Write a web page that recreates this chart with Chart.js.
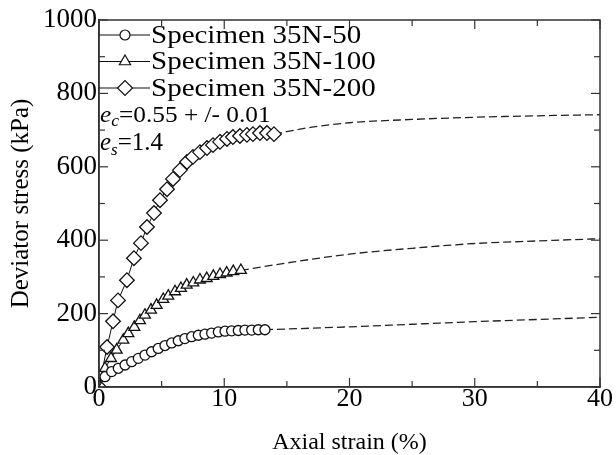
<!DOCTYPE html>
<html><head><meta charset="utf-8">
<script src="https://cdn.jsdelivr.net/npm/chart.js@4/dist/chart.umd.min.js"></script>
<style>html,body{margin:0;padding:0;background:#fff}</style>
</head><body>
<canvas id="c" width="616" height="455" style="display:block;width:616px;height:455px"></canvas>
<script>
const FONT = '"Liberation Serif", "Times New Roman", serif';

const seriesLabels = ['Specimen 35N-50', 'Specimen 35N-100', 'Specimen 35N-200'];

const strain50 = [0, 0.48, 1.01, 1.54, 2.08, 2.61, 3.14, 3.67, 4.2, 4.73, 5.27, 5.8, 6.33, 6.86, 7.4, 7.93, 8.46, 8.99, 9.53, 10.06, 10.59, 11.12, 11.65, 12.19, 12.72, 13.25];
const stress50 = [0, 28, 42, 51, 60, 69, 78, 87, 96, 105, 113, 120, 126, 132, 137, 141, 144, 147, 150, 152, 153, 154, 155, 155, 156, 156];

const strain100 = [0, 0.48, 0.96, 1.41, 1.94, 2.34, 2.82, 3.27, 3.67, 4.15, 4.6, 5.13, 5.53, 6.07, 6.54, 7.0, 7.53, 8.06, 8.6, 9.13, 9.66, 10.19, 10.72, 11.33];
const stress100 = [0, 51, 78, 101, 128, 146, 163, 181, 196, 210, 223, 239, 248, 260, 269, 278, 284, 292, 296, 302, 307, 311, 315, 318];

const strain200 = [0, 0.64, 1.12, 1.52, 2.23, 2.79, 3.35, 3.83, 4.39, 4.87, 5.43, 5.91, 6.46, 7.02, 7.5, 8.06, 8.62, 9.1, 9.66, 10.22, 10.69, 11.25, 11.81, 12.29, 12.85, 13.41, 13.97];
const stress200 = [0, 109, 179, 236, 291, 351, 392, 436, 474, 509, 539, 567, 591, 613, 627, 640, 651, 659, 668, 676, 681, 684, 687, 689, 692, 692, 689];

const fitStrain50 = [13.25, 20, 25, 30, 35, 40];
const fitStress50 = [156, 164, 171, 178, 184, 190];
const fitStrain100 = [11.33, 15, 20, 25, 30, 35, 40];
const fitStress100 = [318, 338, 362, 378, 391, 398, 404];
const fitStrain200 = [13.97, 17, 20, 25, 30, 35, 40];
const fitStress200 = [689, 708, 720, 729, 735, 739, 742];

const xTicks = [0, 10, 20, 30, 40];
const yTicks = [0, 200, 400, 600, 800, 1000];

const pts = (xs, ys) => xs.map((x, i) => ({x: x, y: ys[i]}));
const INK = '#111';

function measured(label, xs, ys, style, r, firstHidden) {
  return {
    label: label, data: pts(xs, ys), showLine: true,
    borderColor: INK, borderWidth: 1, tension: 0,
    pointStyle: style,
    pointRadius: xs.map((_, i) => (firstHidden && i === 0) ? 0 : r),
    pointHoverRadius: r,
    pointBackgroundColor: '#fff', pointBorderColor: INK, pointBorderWidth: 1.3
  };
}
function fitted(xs, ys) {
  return {
    label: '', data: pts(xs, ys), showLine: true,
    borderColor: '#222', borderWidth: 1.3, borderDash: [8, 4],
    cubicInterpolationMode: 'monotone', pointRadius: 0, pointHoverRadius: 0
  };
}

function drawMarker(ctx, style, x, y, r) {
  ctx.beginPath();
  if (style === 'circle') {
    ctx.arc(x, y, r, 0, Math.PI * 2);
  } else if (style === 'triangle') {
    for (let k = 0; k < 3; k++) {
      const a = -Math.PI / 2 + k * 2 * Math.PI / 3;
      const px = x + r * Math.cos(a), py = y + r * Math.sin(a);
      if (k === 0) ctx.moveTo(px, py); else ctx.lineTo(px, py);
    }
    ctx.closePath();
  } else {
    ctx.moveTo(x - r, y); ctx.lineTo(x, y - r); ctx.lineTo(x + r, y); ctx.lineTo(x, y + r);
    ctx.closePath();
  }
  ctx.fillStyle = '#fff'; ctx.fill();
  ctx.stroke();
}

function stretchedText(ctx, text, x, y, sx) {
  ctx.save();
  ctx.translate(x, y);
  ctx.scale(sx, 1);
  ctx.fillText(text, 0, 0);
  const w = ctx.measureText(text).width * sx;
  ctx.restore();
  return w;
}

const decor = {
  id: 'decor',
  afterDraw(chart) {
    const {ctx, chartArea: a, scales: {x, y}} = chart;
    ctx.save();
    ctx.strokeStyle = '#333'; ctx.lineWidth = 1.5;
    ctx.strokeRect(a.left, a.top, a.right - a.left, a.bottom - a.top);
    ctx.lineWidth = 1.2;
    const seg = (x1, y1, x2, y2) => { ctx.beginPath(); ctx.moveTo(x1, y1); ctx.lineTo(x2, y2); ctx.stroke(); };
    for (let v = 0; v <= 40; v += 5) {
      const px = x.getPixelForValue(v);
      const L = (v % 10 === 0) ? 9 : 6;
      seg(px, a.bottom, px, a.bottom - L);
      seg(px, a.top, px, a.top + L);
    }
    for (let v = 0; v <= 1000; v += 100) {
      const py = y.getPixelForValue(v);
      const L = (v % 200 === 0) ? 9 : 6;
      seg(a.left, py, a.left + L, py);
      seg(a.right, py, a.right - L, py);
    }
    // legend
    const styles = ['circle', 'triangle', 'rectRot'];
    const radii = [5, 6.5, 7.5];
    const rows = [35, 61.5, 88];
    ctx.strokeStyle = INK;
    ctx.font = '25px ' + FONT; ctx.fillStyle = '#000';
    ctx.textBaseline = 'middle'; ctx.textAlign = 'left';
    for (let i = 0; i < 3; i++) {
      const yy = rows[i];
      ctx.lineWidth = 1.2;
      seg(a.left, yy, a.left + 51, yy);
      drawMarker(ctx, styles[i], a.left + 26, yy, radii[i]);
      ctx.fillStyle = '#000';
      stretchedText(ctx, seriesLabels[i], a.left + 52, yy + 1, 1.16);
    }
    // annotation
    ctx.textBaseline = 'alphabetic';
    let cx = a.left + 1;
    ctx.font = 'italic 23px ' + FONT; cx += stretchedText(ctx, 'e', cx, 122, 1.1);
    ctx.font = 'italic 16px ' + FONT; cx += stretchedText(ctx, 'c', cx, 126, 1.1);
    ctx.font = '23px ' + FONT; stretchedText(ctx, '=0.55 + /- 0.01', cx, 122, 1.1);
    cx = a.left + 1;
    ctx.font = 'italic 25px ' + FONT; cx += stretchedText(ctx, 'e', cx, 150, 1);
    ctx.font = 'italic 17px ' + FONT; cx += stretchedText(ctx, 's', cx, 155, 1);
    ctx.font = '25px ' + FONT; stretchedText(ctx, '=1.4', cx, 150, 1);
    ctx.restore();
  }
};

new Chart(document.getElementById('c'), {
  type: 'scatter',
  data: {
    datasets: [
      measured(seriesLabels[0], strain50, stress50, 'circle', 5, true),
      measured(seriesLabels[1], strain100, stress100, 'triangle', 6.3, true),
      measured(seriesLabels[2], strain200, stress200, 'rectRot', 7.3, false),
      fitted(fitStrain50, fitStress50),
      fitted(fitStrain100, fitStress100),
      fitted(fitStrain200, fitStress200)
    ]
  },
  options: {
    responsive: false, animation: false, devicePixelRatio: 1,
    layout: {padding: {left: 0, top: 20, right: 16, bottom: 0}},
    plugins: {legend: {display: false}, tooltip: {enabled: false}},
    scales: {
      x: {
        type: 'linear', position: 'bottom', min: 0, max: 40,
        grid: {display: false, drawTicks: false},
        border: {display: true, color: '#333', width: 1.5},
        afterBuildTicks: s => { s.ticks = xTicks.map(v => ({value: v})); },
        afterFit: s => { s.height = 68; },
        ticks: {color: '#000', padding: -1, maxRotation: 0, autoSkip: false,
                callback: v => String(v),
                font: {family: FONT, size: 26, weight: 'normal', lineHeight: 1}},
        title: {display: true, text: 'Axial strain (%)', color: '#000',
                font: {family: FONT, size: 24, weight: 'normal', lineHeight: 1}, padding: {top: 0, bottom: 0}}
      },
      y: {
        type: 'linear', position: 'left', min: 0, max: 1000,
        grid: {display: false, drawTicks: false},
        border: {display: true, color: '#333', width: 1.5},
        afterBuildTicks: s => { s.ticks = yTicks.map(v => ({value: v})); },
        afterFit: s => { s.width = 99; },
        ticks: {color: '#000', padding: 2, autoSkip: false,
                callback: v => String(v),
                font: {family: FONT, size: 27, weight: 'normal', lineHeight: 1}},
        title: {display: true, text: 'Deviator stress (kPa)', color: '#000',
                font: {family: FONT, size: 25, weight: 'normal', lineHeight: 1}, padding: {top: 9, bottom: 0}}
      }
    }
  },
  plugins: [decor]
});
</script>
</body></html>
